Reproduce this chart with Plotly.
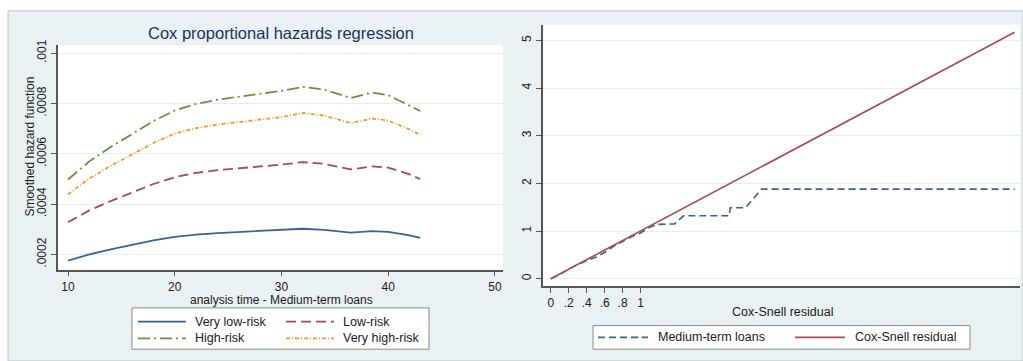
import plotly.graph_objects as go

# ---------------- data ----------------
time_pts = [10, 12, 14, 16, 18, 20, 22, 24, 26, 28, 30, 32, 34, 36.5, 38.5, 40, 42, 43]
very_low = [0.000175, 0.000200, 0.000220, 0.000238, 0.000256, 0.000270, 0.000279, 0.000285, 0.000289,
            0.000293, 0.000297, 0.000302, 0.000298, 0.000287, 0.000293, 0.000290, 0.000276, 0.000266]
low = [0.000328, 0.000375, 0.000412, 0.000446, 0.000480, 0.000507, 0.000524, 0.000535, 0.000542,
       0.000550, 0.000557, 0.000567, 0.000560, 0.000538, 0.000550, 0.000545, 0.000518, 0.000500]
high = [0.000498, 0.000570, 0.000627, 0.000680, 0.000730, 0.000772, 0.000798, 0.000815, 0.000826,
        0.000838, 0.000850, 0.000866, 0.000855, 0.000822, 0.000843, 0.000833, 0.000793, 0.000770]
very_high = [0.000439, 0.000502, 0.000552, 0.000597, 0.000643, 0.000680, 0.000702, 0.000716, 0.000726,
             0.000736, 0.000746, 0.000762, 0.000752, 0.000722, 0.000740, 0.000732, 0.000697, 0.000675]
left_yticks = [0.0002, 0.0004, 0.0006, 0.0008, 0.001]
left_yticktext = [".0002", ".0004", ".0006", ".0008", ".001"]
left_xticks = [10, 20, 30, 40, 50]

cs_x = [0, 0.1, 0.2, 0.3, 0.4, 0.5, 0.6, 0.7, 0.8, 0.9, 1.0, 1.1, 1.2, 1.38, 1.48, 1.99, 2.0, 2.17, 2.35, 5.17]
cs_y = [0, 0.09, 0.2, 0.3, 0.38, 0.45, 0.55, 0.68, 0.78, 0.88, 0.96, 1.08, 1.14, 1.15, 1.32, 1.32, 1.49, 1.49, 1.88, 1.88]
ref_x = [0, 5.17]
ref_y = [0, 5.17]
right_xticks = [0, 0.2, 0.4, 0.6, 0.8, 1]
right_xticktext = ["0", ".2", ".4", ".6", ".8", "1"]
right_yticks = [0, 1, 2, 3, 4, 5]

# ---------------- style ----------------
W, H = 1023, 361
FONT = "Liberation Sans, Arial, sans-serif"
BG = "#e9f1f3"
GRID = "#e6eef0"
AXIS = "#555555"
TXT = "#1a1a1a"
BLUE = "#3b6391"
RED = "#a84a52"
GREEN = "#6a8f45"
ORANGE = "#f0992e"


def fx(px):
    return px / W


def fy(py):
    return 1 - py / H


fig = go.Figure()

fig.add_trace(go.Scatter(x=time_pts, y=very_low, mode="lines", name="Very low-risk",
                         line=dict(color=BLUE, width=1.8), xaxis="x", yaxis="y", showlegend=False))
fig.add_trace(go.Scatter(x=time_pts, y=low, mode="lines", name="Low-risk",
                         line=dict(color=RED, width=1.8, dash="10px,5px"), xaxis="x", yaxis="y", showlegend=False))
fig.add_trace(go.Scatter(x=time_pts, y=high, mode="lines", name="High-risk",
                         line=dict(color=GREEN, width=1.8, dash="12px,4px,2px,4px"), xaxis="x", yaxis="y", showlegend=False))
fig.add_trace(go.Scatter(x=time_pts, y=very_high, mode="lines", name="Very high-risk",
                         line=dict(color=ORANGE, width=1.8, dash="4px,2px,1px,2px"), xaxis="x", yaxis="y", showlegend=False))

fig.add_trace(go.Scatter(x=cs_x, y=cs_y, mode="lines", name="Medium-term loans",
                         line=dict(color=BLUE, width=1.6, dash="7px,4px"), xaxis="x2", yaxis="y2", showlegend=False))
fig.add_trace(go.Scatter(x=ref_x, y=ref_y, mode="lines", name="Cox-Snell residual",
                         line=dict(color=RED, width=1.6), xaxis="x2", yaxis="y2", showlegend=False))

axis_common = dict(showline=True, linecolor=AXIS, linewidth=1.5, ticks="outside", ticklen=5,
                   tickcolor=AXIS, tickwidth=1, zeroline=False,
                   tickfont=dict(family=FONT, size=12, color=TXT))

shapes = []
# panel background
shapes.append(dict(type="rect", xref="paper", yref="paper", x0=fx(8), x1=fx(1023), y0=fy(361), y1=fy(5),
                   fillcolor=BG, line=dict(color="#b9c2c6", width=1), layer="below"))
# plot regions
shapes.append(dict(type="rect", xref="paper", yref="paper", x0=fx(58), x1=fx(503), y0=fy(268), y1=fy(40),
                   fillcolor="white", line=dict(width=0), layer="below"))
shapes.append(dict(type="rect", xref="paper", yref="paper", x0=fx(543), x1=fx(1020), y0=fy(285), y1=fy(19),
                   fillcolor="white", line=dict(width=0), layer="below"))

annotations = []

# --- left legend ---
shapes.append(dict(type="rect", xref="paper", yref="paper", x0=fx(132), x1=fx(429), y0=fy(349), y1=fy(307),
                   fillcolor="white", line=dict(color="#8a8a8a", width=1)))
leg_left = [
    ("Very low-risk", BLUE, "solid", 138, 321),
    ("Low-risk", RED, "10px,5px", 286, 321),
    ("High-risk", GREEN, "12px,4px,2px,4px", 138, 338),
    ("Very high-risk", ORANGE, "4px,2px,1px,2px", 286, 338),
]
for name, col, dash, x0, yy in leg_left:
    shapes.append(dict(type="line", xref="paper", yref="paper", x0=fx(x0), x1=fx(x0 + 48), y0=fy(yy), y1=fy(yy),
                       line=dict(color=col, width=1.8, dash=dash)))
    annotations.append(dict(text=name, xref="paper", yref="paper", x=fx(x0 + 55), y=fy(yy), xanchor="left",
                            yanchor="middle", showarrow=False, font=dict(family=FONT, size=12.5, color=TXT)))

# --- right legend ---
shapes.append(dict(type="rect", xref="paper", yref="paper", x0=fx(593), x1=fx(970), y0=fy(349), y1=fy(325),
                   fillcolor="white", line=dict(color="#8a8a8a", width=1)))
leg_right = [
    ("Medium-term loans", BLUE, "7px,4px", 598),
    ("Cox-Snell residual", RED, "solid", 795),
]
for name, col, dash, x0 in leg_right:
    shapes.append(dict(type="line", xref="paper", yref="paper", x0=fx(x0), x1=fx(x0 + 50), y0=fy(337), y1=fy(337),
                       line=dict(color=col, width=1.6, dash=dash)))
    annotations.append(dict(text=name, xref="paper", yref="paper", x=fx(x0 + 58), y=fy(337), xanchor="left",
                            yanchor="middle", showarrow=False, font=dict(family=FONT, size=12.5, color=TXT)))

# titles
annotations.append(dict(text="Cox proportional hazards regression", xref="paper", yref="paper",
                        x=fx(281), y=fy(27), xanchor="center", yanchor="middle", showarrow=False,
                        font=dict(family=FONT, size=16.5, color="#1f2f5c")))
annotations.append(dict(text="Smoothed hazard function", xref="paper", yref="paper",
                        x=fx(30), y=fy(143), xanchor="center", yanchor="middle", showarrow=False, textangle=-90,
                        font=dict(family=FONT, size=12, color=TXT)))
annotations.append(dict(text="analysis time - Medium-term loans", xref="paper", yref="paper",
                        x=fx(281), y=fy(291), xanchor="center", yanchor="top", showarrow=False,
                        font=dict(family=FONT, size=12, color=TXT), borderpad=0))
annotations.append(dict(text="Cox-Snell residual", xref="paper", yref="paper",
                        x=fx(782), y=fy(311), xanchor="center", yanchor="middle", showarrow=False,
                        font=dict(family=FONT, size=12.5, color=TXT)))

fig.update_layout(
    width=W, height=H,
    margin=dict(l=0, r=0, t=0, b=0),
    paper_bgcolor="white",
    plot_bgcolor="rgba(0,0,0,0)",
    showlegend=False,
    shapes=shapes,
    annotations=annotations,
    xaxis=dict(domain=[fx(58), fx(503)], range=[9.063, 50.75], tickvals=left_xticks, showgrid=False,
               anchor="y", ticklabelstandoff=0, **axis_common),
    yaxis=dict(domain=[fy(268), fy(40)], range=[0.00014, 0.001031], tickvals=left_yticks,
               ticktext=left_yticktext, tickangle=-90, showgrid=True, gridcolor=GRID, gridwidth=1,
               anchor="x", **axis_common),
    xaxis2=dict(domain=[fx(543), fx(1020)], range=[-0.087, 5.23], tickvals=right_xticks,
                ticktext=right_xticktext, showgrid=False, anchor="y2", **axis_common),
    yaxis2=dict(domain=[fy(285), fy(19)], range=[-0.159, 5.33], tickvals=right_yticks, tickangle=-90,
                showgrid=True, gridcolor=GRID, gridwidth=1, anchor="x2", **axis_common),
)

fig.write_html("out.html")
